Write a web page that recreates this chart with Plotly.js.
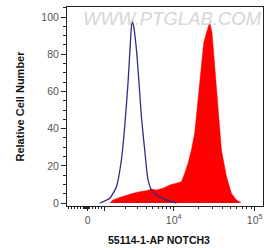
<!DOCTYPE html>
<html>
<head>
<meta charset="utf-8">
<script src="https://cdn.plot.ly/plotly-3.0.1.min.js"></script>
<style>html,body{margin:0;padding:0;background:#fff;}#chart{width:268px;height:248px;}</style>
</head>
<body>
<div id="chart"></div>
<script>
// x values in display (biexponential) units: 10^4 -> 4, 10^5 -> 5
var controlX = [3.086, 3.210, 3.293, 3.354, 3.395, 3.436, 3.465, 3.485, 3.506, 3.540, 3.572, 3.601, 3.642, 3.683, 3.725, 3.786, 3.868, 3.951, 4.033];
var controlY = [0, 2.6, 8.8, 23, 41, 64.5, 86, 97.8, 95, 82.5, 64.5, 46.5, 28.6, 12.4, 7, 4.3, 2.5, 1, 0];

var stainedX = [3.210, 3.251, 3.333, 3.416, 3.498, 3.580, 3.663, 3.725, 3.786, 3.868, 3.951, 4.033, 4.095, 4.136, 4.177, 4.219, 4.259, 4.300, 4.342, 4.370, 4.404, 4.444, 4.473, 4.506, 4.547, 4.589, 4.651, 4.712, 4.774, 4.836];
var stainedY = [0, 1.6, 3, 4.3, 5.2, 6.1, 6.6, 7.5, 7, 7.9, 9.7, 10.6, 11.5, 16, 21.4, 28.6, 37.6, 55.6, 75.3, 86, 91.5, 97.3, 91.5, 73.5, 50, 28.6, 14.2, 5.2, 1.6, 0];

var xTickVals = [2.938, 3.144, 4, 5];
var xTickText = ['0', '', '10<sup>4</sup>', '10<sup>5</sup>'];

// minor tick positions (axis decoration)
var minorX = [];
for (var v = 2.70; v < 3.14; v += 0.037) minorX.push(v);
for (var w = 2.905; w < 2.96; w += 0.008) minorX.push(w);
for (var k = 2; k <= 9; k++) {
  minorX.push(3.144 + 0.856 * Math.log10(k));
  minorX.push(4 + Math.log10(k));
}

var traces = [
  {x: stainedX, y: stainedY, type: 'scatter', mode: 'lines', fill: 'tozeroy',
   fillcolor: '#ff0000', line: {color: '#ff0000', width: 0.5}, hoverinfo: 'skip'},
  {x: controlX, y: controlY, type: 'scatter', mode: 'lines',
   line: {color: '#2b2d86', width: 1.3, shape: 'spline', smoothing: 0.6}, hoverinfo: 'skip'}
];

var layout = {
  width: 268, height: 248,
  margin: {l: 67, r: 5, t: 7, b: 42},
  paper_bgcolor: '#fff', plot_bgcolor: '#fff',
  showlegend: false,
  font: {family: 'Liberation Sans, Arial, sans-serif'},
  xaxis: {
    range: [2.683, 5.102], showgrid: false, zeroline: false,
    showline: true, linecolor: '#222', linewidth: 1, mirror: true,
    tickmode: 'array', tickvals: xTickVals, ticktext: xTickText,
    ticks: 'outside', ticklen: 4, tickwidth: 1, tickcolor: '#222',
    tickfont: {size: 10.5, color: '#555'},
    minor: {tickmode: 'array', tickvals: minorX, ticks: 'outside', ticklen: 2, tickwidth: 1, tickcolor: '#222', showgrid: false}
  },
  yaxis: {
    range: [-1.6, 105.4], showgrid: false, zeroline: false,
    showline: true, linecolor: '#222', linewidth: 1, mirror: true,
    tickmode: 'array', tickvals: [0, 20, 40, 60, 80, 100],
    ticks: 'outside', ticklen: 5, tickwidth: 1, tickcolor: '#222',
    tickfont: {size: 10.5, color: '#555'},
    minor: {dtick: 5, ticks: 'outside', ticklen: 3, tickwidth: 1, tickcolor: '#222', showgrid: false},
    title: {text: 'Relative Cell Number', font: {size: 11, color: '#111', weight: 'bold'}, standoff: 14}
  },
  annotations: [
    {text: 'WWW.PTGLAB.COM', xref: 'paper', yref: 'paper', x: 0.54, y: 1.005, yanchor: 'top', xanchor: 'center',
     showarrow: false, font: {size: 18.5, color: '#d6d6d6', style: 'italic', family: 'Liberation Sans, Arial, sans-serif'}},
    {text: '<b>55114-1-AP NOTCH3</b>', xref: 'paper', yref: 'paper', x: 0.47, y: -0.17, yanchor: 'middle', xanchor: 'center',
     showarrow: false, font: {size: 10.5, color: '#111'}}
  ]
};

Plotly.newPlot('chart', traces, layout, {displayModeBar: false, staticPlot: true});
</script>
</body>
</html>
